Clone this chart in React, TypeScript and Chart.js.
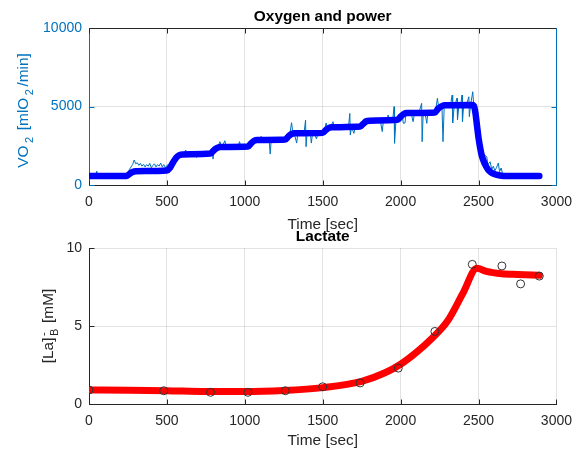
import React, { useEffect, useRef } from "react";
import { Chart, registerables } from "chart.js";

Chart.register(...registerables);

const FONT = '"Liberation Sans", Arial, Helvetica, sans-serif';
const AXIS_GRAY = "#262626";
const MATLAB_BLUE = "#0072BD";
const GRID = "rgba(38,38,38,0.13)";

// ---- data ----
const timeTicks = [0, 500, 1000, 1500, 2000, 2500, 3000];
const vo2Ticks = [0, 5000, 10000];
const lactateTicks = [0, 5, 10];

const topTitle = "Oxygen and power";
const bottomTitle = "Lactate";
const xLabel = "Time [sec]";

// raw VO2 measurements [time s, VO2 mlO2/min]
const vo2Raw: [number, number][] = [
  [0,560],[10,620],[20,580],[30,600],[40,570],[50,880],[56,600],[70,580],[90,620],[110,560],[130,600],[150,580],[170,620],[190,560],[210,600],[230,590],[245,700],[260,1000],[270,1150],[280,1300],[290,1590],[300,1350],[310,1420],[320,1250],[330,1380],[340,1200],[350,1320],[360,1150],[370,1300],[380,1200],[390,1380],[400,1100],[410,1250],[420,1350],[430,1150],[440,1300],[450,1200],[460,1400],[470,1150],[480,1300],[490,1100],[500,1250],[510,1300],[520,1350],[530,1500],[540,1650],[550,1750],[560,1850],[570,1950],[580,2000],[590,2050],[600,2050],[610,2000],[620,2230],[630,2050],[640,1950],[650,2100],[660,2000],[670,2050],[680,1950],[690,1750],[700,2050],[710,2000],[720,2100],[730,1980],[740,2050],[750,2000],[760,2100],[770,2050],[780,2150],[790,2300],[796,1650],[805,2400],[815,2450],[830,2500],[840,2760],[850,2450],[860,2550],[872,2820],[880,2450],[890,2500],[900,2400],[910,2550],[920,2450],[930,2600],[940,2400],[950,2500],[960,2550],[966,2760],[975,2450],[985,2500],[995,2400],[1005,2550],[1015,2500],[1025,2600],[1035,2750],[1045,2900],[1055,2850],[1065,3000],[1075,2850],[1085,3050],[1095,2900],[1105,3100],[1115,2900],[1125,2950],[1135,3050],[1145,2850],[1155,3000],[1163,1970],[1170,2950],[1180,3050],[1190,2900],[1200,3000],[1210,2850],[1220,3050],[1230,2950],[1240,2900],[1250,3000],[1260,2950],[1270,3100],[1280,3200],[1290,3300],[1300,3970],[1308,3350],[1318,3250],[1333,2670],[1340,3300],[1350,3400],[1360,3250],[1370,3350],[1380,3300],[1390,4140],[1393,2440],[1400,3350],[1410,3300],[1420,3400],[1427,2670],[1435,3300],[1445,3350],[1460,2930],[1470,3300],[1480,3400],[1490,3300],[1500,3350],[1510,3450],[1522,3950],[1530,3600],[1540,3650],[1550,3700],[1566,4030],[1575,3650],[1585,3750],[1595,3650],[1605,3800],[1615,3700],[1625,3600],[1635,3750],[1645,3700],[1655,3800],[1665,3650],[1674,4560],[1677,3180],[1685,3700],[1700,3290],[1710,3750],[1720,3700],[1730,3500],[1740,3750],[1750,3850],[1760,3950],[1770,4050],[1780,4150],[1790,4100],[1800,4200],[1810,4050],[1820,4150],[1830,4100],[1840,4200],[1850,4050],[1860,4150],[1870,4100],[1882,3400],[1890,4150],[1900,4200],[1910,4100],[1920,4460],[1930,4150],[1940,4050],[1950,4200],[1958,4990],[1961,2660],[1970,4100],[1980,4200],[1990,4300],[2000,4400],[2010,4500],[2017,3930],[2028,3950],[2035,4600],[2045,4650],[2055,4550],[2065,4700],[2080,4030],[2090,4600],[2100,4650],[2110,4550],[2120,4700],[2135,5200],[2138,2760],[2145,4600],[2155,4700],[2168,3930],[2175,4650],[2185,4600],[2195,4700],[2205,4550],[2215,4650],[2225,4800],[2236,5520],[2245,4900],[2255,5000],[2265,5100],[2272,2760],[2280,5050],[2290,5150],[2300,5050],[2310,5200],[2320,5100],[2331,5730],[2334,3950],[2345,5100],[2352,5200],[2362,5540],[2365,4140],[2375,5150],[2385,5050],[2394,5730],[2397,4030],[2405,5150],[2415,5100],[2425,5200],[2438,5620],[2441,4350],[2450,5150],[2463,5940],[2470,5000],[2480,4700],[2490,4000],[2500,3300],[2512,2700],[2520,2300],[2530,2000],[2540,1900],[2553,1800],[2560,1300],[2574,1480],[2585,1000],[2595,1200],[2605,900],[2615,1100],[2627,1400],[2635,850],[2645,1080],[2655,700],[2665,650],[2680,600],[2700,580],[2720,560],[2740,590],[2760,570],[2780,600],[2800,560],[2820,590],[2840,570],[2860,600],[2880,580],[2890,570],
];

// smoothed VO2 [time s, VO2]
const vo2Smooth: [number, number][] = [
  [0,580],[240,580],[260,700],[280,830],[300,880],[500,930],[520,1100],[540,1450],[560,1750],[580,1900],[600,1950],[780,2000],[800,2200],[820,2350],[840,2420],[1020,2450],[1040,2650],[1060,2820],[1080,2870],[1260,2900],[1280,3100],[1300,3250],[1320,3290],[1500,3320],[1520,3500],[1540,3640],[1560,3680],[1740,3720],[1760,3900],[1780,4060],[1800,4100],[1980,4150],[2000,4350],[2020,4520],[2040,4580],[2220,4620],[2240,4850],[2260,5000],[2280,5080],[2460,5100],[2470,5050],[2480,4600],[2490,3800],[2500,3000],[2510,2400],[2520,1900],[2540,1350],[2560,1000],[2580,800],[2600,700],[2630,620],[2660,580],[2890,580],
];

// blood lactate samples [time s, mM]
const lactateSamples: [number, number][] = [
  [0,0.9],[480,0.85],[780,0.75],[1020,0.75],[1260,0.85],[1500,1.1],[1740,1.35],[1985,2.3],[2220,4.65],[2460,8.95],[2650,8.85],[2770,7.7],[2890,8.2],
];

// fitted lactate curve [time s, mM]
const lactateFit: [number, number][] = [
  [0,0.9],[250,0.88],[500,0.85],[750,0.8],[1000,0.8],[1250,0.87],[1500,1.05],[1750,1.45],[1900,2.0],[2000,2.55],[2100,3.3],[2200,4.2],[2300,5.3],[2400,7.1],[2490,8.7],[2550,8.5],[2650,8.35],[2750,8.3],[2890,8.25],
];

const toXY = (arr: [number, number][]) => arr.map(([x, y]) => ({ x, y }));

type Seg = { t: string; sub?: boolean; sup?: string };

function drawRotatedRich(
  ctx: CanvasRenderingContext2D,
  segs: Seg[],
  baselineX: number,
  centerY: number,
  size: number,
  color: string,
  subGap: number
) {
  const small = size * 0.72;
  ctx.save();
  ctx.fillStyle = color;
  ctx.textBaseline = "alphabetic";
  ctx.textAlign = "left";
  const widths = segs.map((s) => {
    ctx.font = `${s.sub ? small : size}px ${FONT}`;
    let w = ctx.measureText(s.t).width;
    if (s.sup) w = Math.max(w, ctx.measureText(s.sup).width);
    return w + (s.sub ? subGap * 2 : 0);
  });
  const total = widths.reduce((a, b) => a + b, 0);
  ctx.translate(baselineX, centerY);
  ctx.rotate(-Math.PI / 2);
  let x = -total / 2;
  segs.forEach((s, i) => {
    if (s.sub) {
      ctx.font = `${small}px ${FONT}`;
      ctx.fillText(s.t, x + subGap, size * 0.3);
      if (s.sup) ctx.fillText(s.sup, x + subGap, -size * 0.42);
    } else {
      ctx.font = `${size}px ${FONT}`;
      ctx.fillText(s.t, x, 0);
    }
    x += widths[i];
  });
  ctx.restore();
}

function makeDecor(kind: "top" | "bottom") {
  return {
    id: "decor-" + kind,
    afterDraw(chart: any) {
      const { ctx, chartArea: a, scales } = chart;
      const xs = scales.x;
      const ys = scales.y;
      const L = Math.round(a.left) + 0.5;
      const R = Math.round(a.right) + 0.5;
      const T = Math.round(a.top) + 0.5;
      const B = Math.round(a.bottom) + 0.5;
      const tick = 5;
      ctx.save();
      ctx.lineWidth = 1;
      // x ticks (inward)
      ctx.strokeStyle = AXIS_GRAY;
      ctx.beginPath();
      timeTicks.forEach((v) => {
        const px = Math.round(xs.getPixelForValue(v)) + 0.5;
        ctx.moveTo(px, B);
        ctx.lineTo(px, B - tick);
        if (kind === "top") {
          ctx.moveTo(px, T);
          ctx.lineTo(px, T + tick);
        }
      });
      ctx.stroke();
      const yt = kind === "top" ? vo2Ticks : lactateTicks;
      ctx.strokeStyle = kind === "top" ? MATLAB_BLUE : AXIS_GRAY;
      ctx.beginPath();
      yt.forEach((v) => {
        const py = Math.round(ys.getPixelForValue(v)) + 0.5;
        ctx.moveTo(L, py);
        ctx.lineTo(L + tick, py);
        if (kind === "top") {
          ctx.moveTo(R, py);
          ctx.lineTo(R - tick, py);
        }
      });
      ctx.stroke();
      if (kind === "top") {
        // box: top edge dark, right edge blue
        ctx.strokeStyle = AXIS_GRAY;
        ctx.beginPath();
        ctx.moveTo(L, T);
        ctx.lineTo(R, T);
        ctx.stroke();
        ctx.strokeStyle = MATLAB_BLUE;
        ctx.beginPath();
        ctx.moveTo(R, T);
        ctx.lineTo(R, B);
        ctx.stroke();
      }
      // title
      const cx = (a.left + a.right) / 2;
      ctx.fillStyle = "#000";
      ctx.font = `bold 15.4px ${FONT}`;
      ctx.textAlign = "center";
      ctx.textBaseline = "alphabetic";
      ctx.fillText(kind === "top" ? topTitle : bottomTitle, cx, a.top - 7);
      // y label
      const cy = (a.top + a.bottom) / 2;
      if (kind === "top") {
        drawRotatedRich(
          ctx,
          [{ t: "VO" }, { t: "2", sub: true }, { t: " [mlO" }, { t: "2", sub: true }, { t: "/min]" }],
          28,
          cy + 4,
          15.4,
          MATLAB_BLUE,
          2.5
        );
      } else {
        drawRotatedRich(
          ctx,
          [{ t: "[La]" }, { t: "B", sub: true, sup: "-" }, { t: " [mM]" }],
          53,
          cy,
          15.4,
          AXIS_GRAY,
          1.5
        );
      }
      ctx.restore();
    },
  };
}

function xScale(tickPad: number, height: number) {
  return {
    type: "linear",
    min: 0,
    max: 3000,
    afterBuildTicks: (s: any) => {
      s.ticks = timeTicks.map((value) => ({ value }));
    },
    afterFit: (s: any) => {
      s.height = height;
    },
    grid: { color: GRID, drawTicks: false, lineWidth: 1 },
    border: { color: AXIS_GRAY, width: 1 },
    ticks: {
      color: AXIS_GRAY,
      font: { family: FONT, size: 14 },
      padding: tickPad,
      maxRotation: 0,
      autoSkip: false,
      callback: (v: any) => String(v),
    },
    title: {
      display: true,
      text: xLabel,
      color: AXIS_GRAY,
      font: { family: FONT, size: 15.4 },
      padding: { top: 0, bottom: height === 50 ? 1 : 0 },
    },
  };
}

function yScale(max: number, ticksArr: number[], color: string) {
  return {
    type: "linear",
    min: 0,
    max,
    afterBuildTicks: (s: any) => {
      s.ticks = ticksArr.map((value) => ({ value }));
    },
    afterFit: (s: any) => {
      s.width = 89;
    },
    grid: { color: GRID, drawTicks: false, lineWidth: 1 },
    border: { color, width: 1 },
    ticks: {
      color,
      font: { family: FONT, size: 14 },
      padding: 7,
      callback: (v: any) => String(v),
    },
  };
}

export default function App() {
  const topRef = useRef<HTMLCanvasElement>(null);
  const botRef = useRef<HTMLCanvasElement>(null);

  useEffect(() => {
    const common = {
      animation: false,
      responsive: false,
      devicePixelRatio: 1,
      plugins: { legend: { display: false }, tooltip: { enabled: false }, title: { display: false } },
      events: [],
    };
    const top = new Chart(topRef.current!, {
      type: "line",
      data: {
        datasets: [
          {
            label: "VO2 raw",
            data: toXY(vo2Raw),
            borderColor: MATLAB_BLUE,
            borderWidth: 1,
            pointRadius: 0,
            order: 2,
            tension: 0,
          },
          {
            label: "VO2 smoothed",
            data: toXY(vo2Smooth),
            borderColor: "#0000FF",
            borderWidth: 6.5,
            pointRadius: 0,
            order: 1,
            cubicInterpolationMode: "monotone",
            borderCapStyle: "round",
            borderJoinStyle: "round",
          },
        ],
      },
      options: {
        ...common,
        layout: { padding: { left: 0, right: 17, top: 28, bottom: 452 - 185 - 50 } },
        scales: {
          x: xScale(9, 50),
          y: yScale(10000, vo2Ticks, MATLAB_BLUE),
        },
      } as any,
      plugins: [makeDecor("top")],
    } as any);

    const bottom = new Chart(botRef.current!, {
      type: "line",
      data: {
        datasets: [
          {
            label: "Lactate fit",
            data: toXY(lactateFit),
            borderColor: "#FF0000",
            borderWidth: 7,
            pointRadius: 0,
            order: 2,
            cubicInterpolationMode: "monotone",
            borderCapStyle: "round",
            borderJoinStyle: "round",
          },
          {
            label: "Lactate samples",
            data: toXY(lactateSamples),
            showLine: false,
            pointRadius: 4,
            pointStyle: "circle",
            pointBorderColor: "#333333",
            pointBackgroundColor: "rgba(0,0,0,0)",
            pointBorderWidth: 1,
            order: 1,
          },
        ],
      },
      options: {
        ...common,
        layout: { padding: { left: 0, right: 17, top: 248, bottom: 452 - 404 - 46 } },
        scales: {
          x: xScale(9, 46),
          y: yScale(10, lactateTicks, AXIS_GRAY),
        },
      } as any,
      plugins: [makeDecor("bottom")],
    } as any);

    return () => {
      top.destroy();
      bottom.destroy();
    };
  }, []);

  const cs: React.CSSProperties = { position: "absolute", left: 0, top: 0, width: 581, height: 452 };
  return (
    <div style={{ position: "absolute", left: 0, top: 0, width: 581, height: 452, background: "#fff" }}>
      <canvas ref={topRef} width={581} height={452} style={cs} />
      <canvas ref={botRef} width={581} height={452} style={cs} />
    </div>
  );
}
